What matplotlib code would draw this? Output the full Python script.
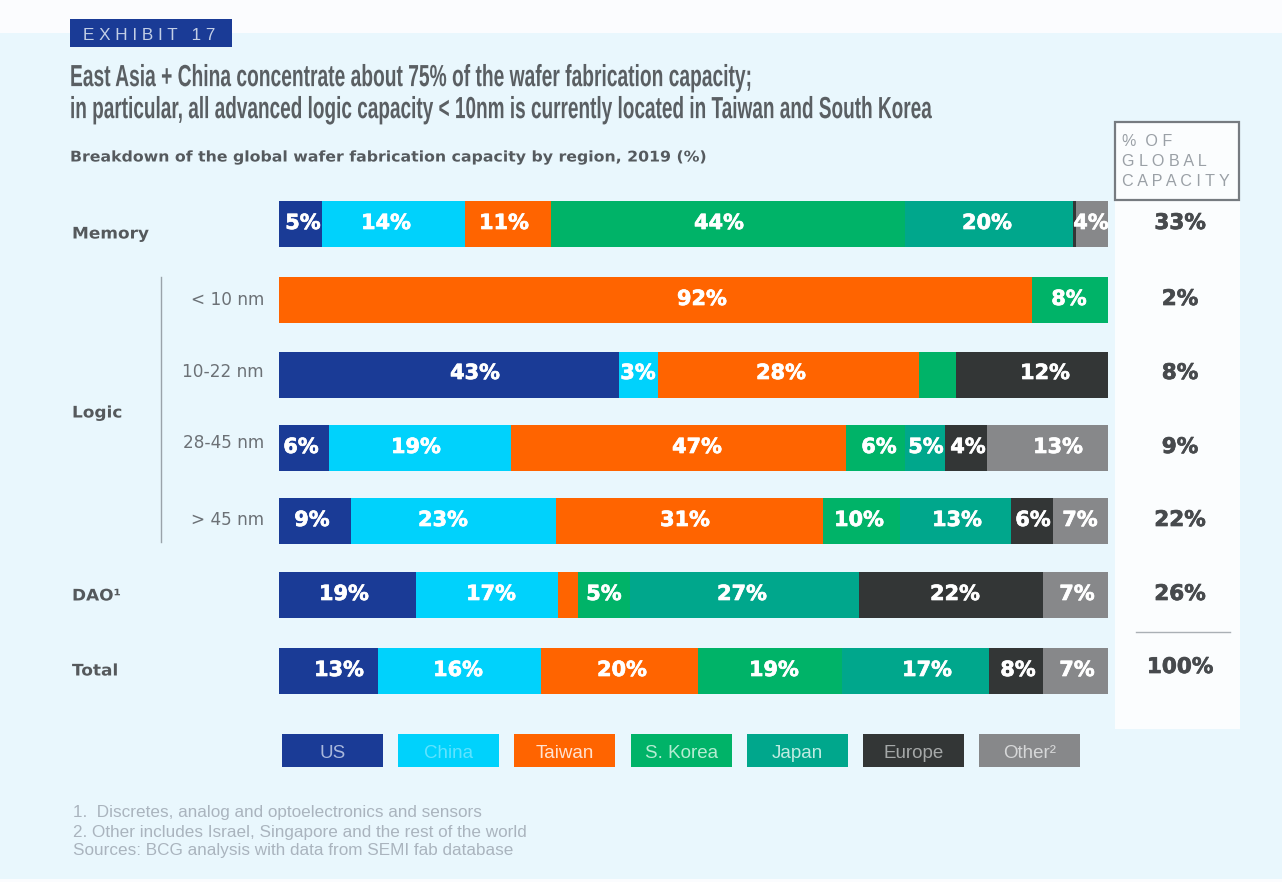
import matplotlib
matplotlib.use("Agg")
import matplotlib.pyplot as plt
from matplotlib.patches import Rectangle
from matplotlib.patheffects import AbstractPathEffect, Stroke, Normal
from matplotlib.transforms import Affine2D

W, H = 1282, 882

# chart data (segment widths, labels as printed)
regions = ['US', 'China', 'Taiwan', 'S. Korea', 'Japan', 'Europe', 'Other²']
colors = ['#1a3b96', '#00d2fc', '#ff6400', '#00b368', '#00a78c', '#333636', '#87888a']
legend_text = ['#a9b8dc', '#5fe3ff', '#ffe3d2', '#b5ecd2', '#c0ece2', '#a5a8a8', '#d6d7d8']

memory = [5.2, 17.2, 10.4, 42.7, 20.3, 0.4, 3.8]
lt_10 = [0, 0, 90.8, 9.2, 0, 0, 0]
nm_10_22 = [41.0, 4.7, 31.5, 4.5, 0, 18.3, 0]
nm_28_45 = [6.0, 22.0, 40.4, 7.1, 4.8, 5.1, 14.6]
gt_45 = [8.7, 24.7, 32.2, 9.3, 13.4, 5.1, 6.6]
dao = [16.5, 17.2, 2.4, 6.2, 27.7, 22.2, 7.8]
total = [11.9, 19.7, 18.9, 17.4, 17.7, 6.6, 7.8]
rows = [memory, lt_10, nm_10_22, nm_28_45, gt_45, dao, total]

memory_labels = ['5%', '14%', '11%', '44%', '20%', '4%']
lt_10_labels = ['92%', '8%']
nm_10_22_labels = ['43%', '3%', '28%', '12%']
nm_28_45_labels = ['6%', '19%', '47%', '6%', '5%', '4%', '13%']
gt_45_labels = ['9%', '23%', '31%', '10%', '13%', '6%', '7%']
dao_labels = ['19%', '17%', '5%', '27%', '22%', '7%']
total_labels = ['13%', '16%', '20%', '19%', '17%', '8%', '7%']
row_labels = [memory_labels, lt_10_labels, nm_10_22_labels, nm_28_45_labels,
              gt_45_labels, dao_labels, total_labels]

share_labels = ['33%', '2%', '8%', '9%', '22%', '26%', '100%']
sub_labels = ['< 10 nm', '10-22 nm', '28-45 nm', '> 45 nm']
group_labels = ['Memory', 'Logic', 'DAO¹', 'Total']
footnotes = ['1.  Discretes, analog and optoelectronics and sensors',
             '2. Other includes Israel, Singapore and the rest of the world',
             'Sources: BCG analysis with data from SEMI fab database']

# layout, in reference pixels
bar_y = [223.5, 299.5, 374.5, 447.5, 520.5, 595, 670.5]
label_y = [223, 299, 373, 447, 520, 594, 670]
share_y = [223, 299, 373, 447, 520, 594, 667]
label_x = [[303, 386, 504, 719, 987, 1091],
           [702, 1069],
           [475, 638, 781, 1045],
           [301, 416, 697, 879, 926, 968, 1058],
           [312, 443, 685, 859, 957, 1033, 1080],
           [344, 491, 604, 742, 955, 1077],
           [339, 458, 622, 774, 927, 1018, 1077]]
sub_y = [300, 372, 443, 520]
group_y = [234, 413, 596, 671]
legend_x = [282, 398, 514, 631, 747, 863, 979]
foot_y = [813, 832, 850]


class Squeeze(AbstractPathEffect):
    """Stretch a text around (x0, y0) in display px, none of the fonts is condensed"""

    def __init__(self, sx, x0, sy=1, y0=0):
        super().__init__()
        self.sx = sx
        self.sy = sy
        self.x0 = x0
        self.y0 = y0

    def draw_path(self, renderer, gc, tpath, affine, rgbFace=None):
        stretch = (Affine2D().translate(-self.x0, -self.y0)
                   .scale(self.sx, self.sy).translate(self.x0, self.y0))
        renderer.draw_path(gc, tpath, affine + stretch, rgbFace)


def heavy(color, width=0.5):
    return [Stroke(linewidth=width, foreground=color), Normal()]


fig = plt.figure(figsize=(W / 100, H / 100), dpi=100, facecolor='#e9f7fd')

# whole figure axes in pixels, for everything around the bars
px = fig.add_axes([0, 0, 1, 1])
px.set_xlim(0, W)
px.set_ylim(H, 0)
px.axis('off')

px.add_patch(Rectangle((0, 0), W, 33, color='#fbfcfe', lw=0))
px.add_patch(Rectangle((0, 879), W, 3, color='#fbfcfe', lw=0))
px.add_patch(Rectangle((1115, 122), 125, 607, color='#fbfdfe', lw=0))
px.add_patch(Rectangle((1115, 122), 124, 78, fill=False, ec='#767b80', lw=1.6))
px.add_patch(Rectangle((70, 19), 162, 28, color='#1a3b96', lw=0))

px.text(83, 35, 'E X H I B I T   1 7', color='#c3cfe6', fontsize=12.3,
        family='Liberation Sans', va='center')

px.text(70, 78, 'East Asia + China concentrate about 75% of the wafer fabrication capacity;',
        color='#5a5f63', fontsize=19, family='Liberation Sans', weight='bold', va='center',
        path_effects=[Squeeze(0.728, 70, 1.158, H - 78)])
px.text(70, 110, 'in particular, all advanced logic capacity < 10nm is currently located in Taiwan and South Korea',
        color='#5a5f63', fontsize=19, family='Liberation Sans', weight='bold', va='center',
        path_effects=[Squeeze(0.72, 70, 1.158, H - 110)])
px.text(70, 157, 'Breakdown of the global wafer fabrication capacity by region, 2019 (%)',
        color='#555a5e', fontsize=10.6, family='DejaVu Sans', weight='bold', va='center',
        path_effects=[Squeeze(1.07, 70)])

for y, line in zip([141, 161, 181], ['%  O F', 'G L O B A L', 'C A P A C I T Y']):
    px.text(1122, y, line, color='#9aa0a6', fontsize=11.6, family='Liberation Sans', va='center')

for y, lab in zip(group_y, group_labels):
    px.text(72, y, lab, color='#55595c', fontsize=11.5, family='DejaVu Sans', weight='bold', va='center',
            path_effects=[Squeeze(1.06, 72)])
for y, lab in zip(sub_y, sub_labels):
    px.text(264, y, lab, color='#6c7176', fontsize=12.2, family='DejaVu Sans', ha='right', va='center')
px.plot([161, 161], [277, 542], color='#9aa3aa', lw=1)
px.plot([1136, 1230], [632, 632], color='#aab0b5', lw=1)

# stacked bars on a 0-100 scale
ax = fig.add_axes([279 / W, 0, (1108 - 279) / W, 1])
ax.set_xlim(0, 100)
ax.set_ylim(H, 0)
ax.axis('off')
for y, row in zip(bar_y, rows):
    left = 0
    for value, color in zip(row, colors):
        ax.barh(y, value, left=left, height=46, color=color, lw=0)
        left += value

# texts go on top of the bars
top = fig.add_axes([0, 0, 1, 1], facecolor='none')
top.set_xlim(0, W)
top.set_ylim(H, 0)
top.axis('off')
for xs, y, labels in zip(label_x, label_y, row_labels):
    for x, lab in zip(xs, labels):
        top.text(x, y, lab, color='white', fontsize=15, family='DejaVu Sans',
                 weight='bold', ha='center', va='center', path_effects=heavy('white'))
for y, lab in zip(share_y, share_labels):
    top.text(1180, y, lab, color='#474a4d', fontsize=15.5, family='DejaVu Sans',
             weight='bold', ha='center', va='center', path_effects=heavy('#474a4d'))

for x, name, color, tcolor in zip(legend_x, regions, colors, legend_text):
    top.add_patch(Rectangle((x, 734), 101, 33, color=color, lw=0))
    top.text(x + 50.5, 753, name, color=tcolor, fontsize=13.5, family='Liberation Sans',
             ha='center', va='center')

for y, line in zip(foot_y, footnotes):
    top.text(73, y, line, color='#aab4be', fontsize=12.3, family='Liberation Sans', va='center')

fig.savefig('out.png', dpi=100, facecolor=fig.get_facecolor())
